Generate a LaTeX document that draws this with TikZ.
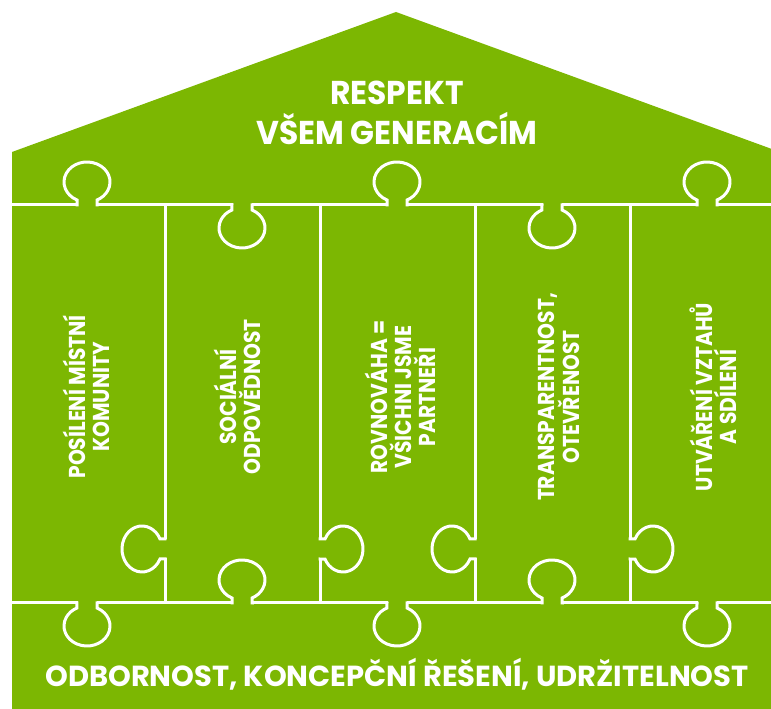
\documentclass[tikz,border=0pt]{standalone}
\usepackage{fontspec}
\setmainfont{Poppins}
\usetikzlibrary{calc}
\definecolor{color1}{RGB}{124,183,2}

% puzzle knob: x, y, rotation (0 = up)
\newcommand{\knob}[3]{%
  \begin{scope}[shift={(#1,#2)},rotate=#3]
    \fill[color1] (-9.5,-2) rectangle (9.5,2);
    \draw[seam] (-10,-1.5) -- (-10,5) arc[start angle=-115.8,end angle=-424.2,x radius=23,y radius=20] -- (10,-1.5);
  \end{scope}}

\begin{document}
\begin{tikzpicture}[x=1pt,y=1pt,
  seam/.style={white,line width=3pt},
  rooftext/.style={white,anchor=base,xscale=0.95,font=\fontsize{33}{38}\selectfont\bfseries},
  pillartext/.style={white,rotate=90,xscale=0.88,align=center,font=\fontsize{23}{24}\selectfont\bfseries}]

  \useasboundingbox (0,0) rectangle (771,709);
  \clip (0,0) rectangle (771,709);

  \fill[color1] (12,0) -- (12,557) -- (396,697) -- (780,557) -- (780,0) -- cycle;

  \draw[seam] (12,504) -- (780,504);
  \draw[seam] (12,106) -- (780,106);
  \foreach \x in {165,320,475,630}
    \draw[seam] (\x,106) -- (\x,504);

  \foreach \x in {87,397,707}{
    \knob{\x}{504}{0}
    \knob{\x}{106}{180}
  }
  \foreach \x in {242,552}{
    \knob{\x}{504}{180}
    \knob{\x}{106}{0}
  }
  \foreach \x/\a in {165/90,320/-90,475/90,630/-90}{
    \knob{\x}{160}{\a}
  }

  \node (respekt) [rooftext] at (397,604) {RESPEKT};
  \node (generace) [rooftext] at (397,564) {VŠEM GENERACÍM};

  \foreach \x/\txt [count=\i] in {86/{POSÍLENÍ MÍSTNÍ\\KOMUNITY},
                                  237/{SOCIÁLNÍ\\ODPOVĚDNOST},
                                  400/{ROVNOVÁHA =\\VŠICHNI JSME\\PARTNEŘI},
                                  559/{TRANSPARENTNOST,\\OTEVŘENOST},
                                  713/{UTVÁŘENÍ VZTAHŮ\\A SDÍLENÍ}}
    \node (pillar\i) [pillartext] at (\x,312) {\txt};

  \node (zaklad) [white,anchor=base,font=\fontsize{29}{33}\selectfont\bfseries] at (397,22) {ODBORNOST, KONCEPČNÍ ŘEŠENÍ, UDRŽITELNOST};

\end{tikzpicture}
\end{document}
